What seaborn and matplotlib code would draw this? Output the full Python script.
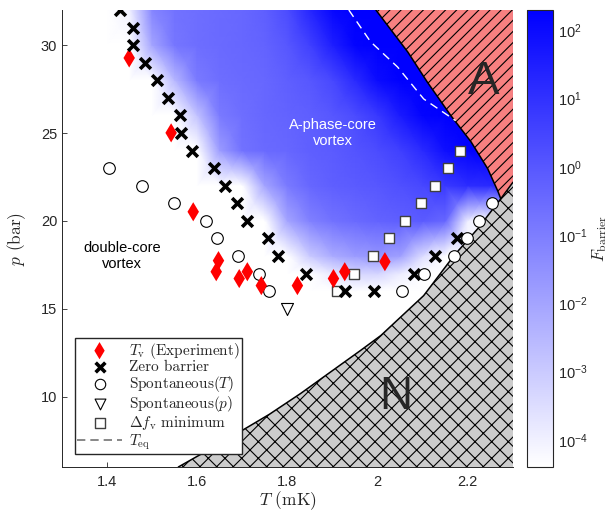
import numpy as np
import matplotlib
matplotlib.use("Agg")
import matplotlib.pyplot as plt
import seaborn as sns
from matplotlib.colors import LinearSegmentedColormap, Normalize, LogNorm
from matplotlib.cm import ScalarMappable
from matplotlib.lines import Line2D
from matplotlib.ticker import NullLocator

sns.set_style("ticks")
plt.rcParams["font.family"] = ["Liberation Sans", "DejaVu Sans"]
plt.rcParams["mathtext.fontset"] = "cm"
plt.rcParams["hatch.linewidth"] = 0.8
plt.rcParams["xtick.direction"] = "in"
plt.rcParams["ytick.direction"] = "in"

# Puntos medidos (T en mK, p en bar)
Tv_T = [1.449, 1.542, 1.591, 1.647, 1.642, 1.693, 1.711, 1.742, 1.822, 1.902, 1.927, 2.016]
Tv_p = [29.27, 25.01, 20.52, 17.74, 17.11, 16.72, 17.11, 16.32, 16.32, 16.72, 17.11, 17.68]

zero_T = [1.429, 1.458, 1.458, 1.484, 1.511, 1.536, 1.562, 1.564, 1.589, 1.636, 1.662,
          1.687, 1.711, 1.756, 1.778, 1.842, 1.927, 1.991, 2.080, 2.127, 2.176]
zero_p = [32, 31, 30, 29, 28, 27, 26, 25, 24, 23, 22, 21, 20, 19, 18, 17, 16, 16, 17, 18, 19]

spT_T = [1.404, 1.478, 1.549, 1.620, 1.644, 1.691, 1.736, 1.758,
         2.053, 2.102, 2.169, 2.198, 2.224, 2.253]
spT_p = [23, 22, 21, 20, 19, 18, 17, 16, 16, 17, 18, 19, 20, 21]

spp_T = [1.80]
spp_p = [15.0]

dfmin_T = [1.909, 1.947, 1.989, 2.024, 2.060, 2.096, 2.127, 2.156, 2.182]
dfmin_p = [16, 17, 18, 19, 20, 21, 22, 23, 24]

# Lineas de fase
T_AB = [2.273, 2.267, 2.244, 2.207, 2.162, 2.110, 2.067, 1.996]
p_AB = [21.26, 21.66, 22.97, 24.50, 26.00, 27.90, 29.60, 32.00]

T_N = [1.558, 1.660, 1.760, 1.829, 1.962, 2.007, 2.102, 2.169, 2.222, 2.273, 2.300]
p_N = [6.00, 7.48, 9.00, 10.18, 12.63, 13.48, 15.75, 18.02, 19.56, 21.26, 22.20]

T_eq = [1.936, 1.984, 2.044, 2.102, 2.173]
p_eq = [32.0, 30.2, 28.76, 26.94, 25.7]

# Mapa de log10(F_barrier) (W = fuera de escala, blanco)
W = -6.0
T_grid = [1.40, 1.45, 1.50, 1.55, 1.60, 1.65, 1.70, 1.75, 1.80, 1.85,
          1.90, 1.95, 2.00, 2.05, 2.10, 2.15, 2.20, 2.25, 2.30]
p_grid = [16, 17, 18, 20, 22, 24, 26, 28, 30, 32]
logF = [
    [W, W, W, W, W, W, W, W, W, W, W, W, W, W, W, W, W, W, W],
    [W, W, W, W, W, W, W, W, W, -5.0, -3.8, -3.3, -3.3, -3.9, -5.5, W, W, W, W],
    [W, W, W, W, W, W, W, W, W, -3.0, -2.2, -1.8, -1.6, -1.9, -3.5, W, W, W, W],
    [W, W, W, W, W, W, W, -4.5, -2.0, -1.1, -0.7, -0.5, -0.3, -0.2, -0.1, -0.4, -4.0, W, W],
    [W, W, W, W, W, W, -4.5, -2.0, -0.9, -0.4, -0.2, -0.1, 0.0, 0.2, 0.4, 0.8, 1.1, 1.2, 1.2],
    [W, W, W, W, -5.5, -1.8, -0.7, -0.5, -0.4, -0.2, -0.1, 0.1, 0.3, 0.6, 1.2, 1.9, 2.2, 2.3, 2.3],
    [W, W, W, -5.0, -2.8, -0.9, -0.6, -0.4, -0.3, -0.2, 0.0, 0.3, 0.8, 1.6, 2.2, 2.3, 2.3, 2.3, 2.3],
    [W, W, W, -2.5, -0.9, -0.6, -0.5, -0.4, -0.2, 0.0, 0.4, 1.2, 2.0, 2.3, 2.3, 2.3, 2.3, 2.3, 2.3],
    [W, W, -2.0, -0.8, -0.6, -0.5, -0.4, -0.3, 0.0, 0.6, 1.5, 2.2, 2.3, 2.3, 2.3, 2.3, 2.3, 2.3, 2.3],
    [W, -4.0, -1.2, -0.7, -0.6, -0.5, -0.4, -0.2, 0.3, 1.3, 2.1, 2.3, 2.3, 2.3, 2.3, 2.3, 2.3, 2.3, 2.3],
]
log_min, log_max = -4.4, 2.3

cmap = LinearSegmentedColormap.from_list("blanco_azul", ["white", "blue"])
cmap.set_under("white")

fig = plt.figure(figsize=(6.15, 5.12), dpi=100)
ax = fig.add_axes([0.1008, 0.0879, 0.7333, 0.8926])
cax = fig.add_axes([0.857, 0.0879, 0.042, 0.8926])

# Mapa de la barrera
TT, PP = np.meshgrid(T_grid, p_grid)
ax.pcolormesh(TT, PP, np.array(logF), shading="gouraud", cmap=cmap,
              norm=Normalize(log_min, log_max), zorder=0)

# Fase A y fase normal
ax.fill_betweenx(p_AB, T_AB, 2.3, facecolor="#F88080", edgecolor="black",
                 hatch="///", linewidth=0, zorder=2)
ax.fill_between(T_N, 6, p_N, facecolor="#CCCCCC", edgecolor="black",
                hatch="xx", linewidth=0, zorder=2)
ax.plot(T_AB, p_AB, color="black", lw=1.1, zorder=3)
ax.plot(T_N, p_N, color="black", lw=1.1, zorder=3)
ax.plot(T_eq, p_eq, color="white", ls=(0, (6, 4)), lw=1.0, zorder=3)

# Puntos
sns.scatterplot(x=Tv_T, y=Tv_p, marker="d", s=95, color="red", edgecolor="none",
                label=r"$T_\mathrm{v}$ (Experiment)", ax=ax, zorder=5)
sns.scatterplot(x=zero_T, y=zero_p, marker="x", s=60, color="black", linewidth=2.6,
                label="Zero barrier", ax=ax, zorder=5)
sns.scatterplot(x=spT_T, y=spT_p, marker="o", s=70, facecolor="white", edgecolor="black",
                linewidth=0.8, label=r"Spontaneous($T$)", ax=ax, zorder=4)
sns.scatterplot(x=spp_T, y=spp_p, marker="v", s=75, facecolor="white", edgecolor="black",
                linewidth=0.8, label=r"Spontaneous($p$)", ax=ax, zorder=4)
sns.scatterplot(x=dfmin_T, y=dfmin_p, marker="s", s=55, facecolor="white", edgecolor="0.25",
                linewidth=1.0, label=r"$\Delta f_\mathrm{v}$ minimum", ax=ax, zorder=4)

# Textos
ax.text(1.90, 25.0, "A-phase-core\nvortex", color="white", fontsize=10.5,
        ha="center", va="center", linespacing=1.25, zorder=4)
ax.text(1.433, 18.0, "double-core\nvortex", color="black", fontsize=10.5,
        ha="center", va="center", linespacing=1.25, zorder=4)
ax.text(2.236, 27.9, "A", fontsize=34, ha="center", va="center", zorder=4)
ax.text(2.04, 10.0, "N", fontsize=33, ha="center", va="center", zorder=4)

ax.set_xlim(1.3, 2.3)
ax.set_ylim(6, 32)
ax.set_xticks([1.4, 1.6, 1.8, 2.0, 2.2])
ax.set_xticklabels(["1.4", "1.6", "1.8", "2", "2.2"])
ax.set_yticks([10, 15, 20, 25, 30])
ax.tick_params(labelsize=10.5, colors="0.15", length=3.5, width=0.6)
ax.tick_params(axis="x", pad=6)
ax.set_xlabel(r"$T$ (mK)", fontfamily="cmr10", fontsize=12.5, color="0.15", labelpad=0)
ax.set_ylabel(r"$p$ (bar)", fontfamily="cmr10", fontsize=12.5, color="0.15", labelpad=9)
for s in ["top", "right"]:
    ax.spines[s].set_visible(False)
for s in ["left", "bottom"]:
    ax.spines[s].set_color("0.15")
    ax.spines[s].set_linewidth(0.7)

# Leyenda
handles, labels = ax.get_legend_handles_labels()
handles.append(Line2D([], [], color="0.45", ls=(0, (5, 3)), lw=1.2))
labels.append(r"$T_\mathrm{eq}$")
ax.legend(handles, labels, loc="lower left", bbox_to_anchor=(0.029, 0.028),
          borderaxespad=0, prop={"family": "cmr10", "size": 11}, frameon=True,
          fancybox=False, edgecolor="0.15", framealpha=1, borderpad=0.15,
          handlelength=2.9, handletextpad=0.5, labelspacing=0.0, markerscale=0.9)

# Barra de color
sm = ScalarMappable(norm=LogNorm(10 ** log_min, 10 ** log_max), cmap=cmap)
cbar = fig.colorbar(sm, cax=cax)
cbar.set_ticks([1e-4, 1e-3, 1e-2, 1e-1, 1e0, 1e1, 1e2])
cax.yaxis.set_minor_locator(NullLocator())
cax.tick_params(labelsize=10.5, colors="0.15", direction="in", length=3, width=0.6)
cbar.outline.set_edgecolor("0.15")
cbar.outline.set_linewidth(0.8)
cbar.set_label(r"$F_\mathrm{barrier}$", fontsize=12, color="0.15", labelpad=2)

fig.savefig("out.png", dpi=100)
